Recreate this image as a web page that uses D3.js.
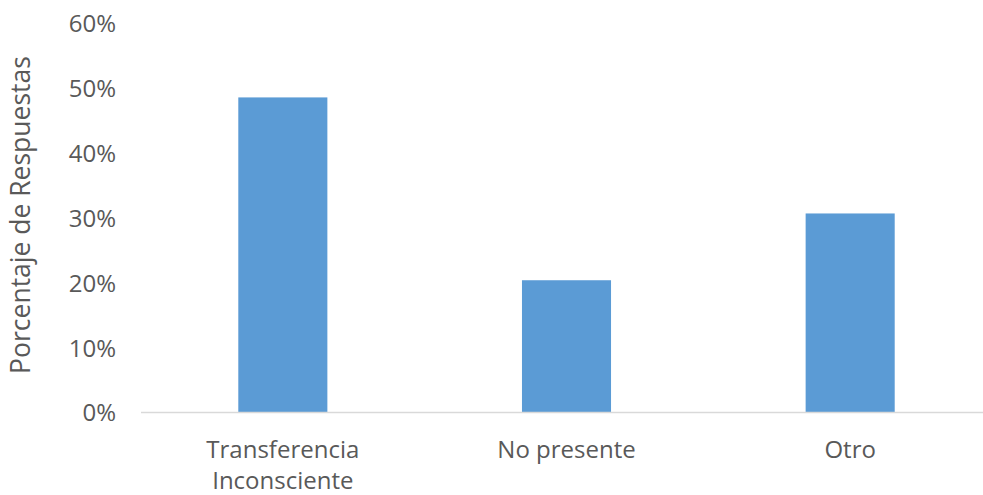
<!DOCTYPE html>
<html>
<head>
<meta charset="utf-8">
<script src="https://cdn.jsdelivr.net/npm/d3@7"></script>
<style>
  body { margin: 0; background: #fff; }
  svg text { font-family: "Open Sans", "Noto Sans", sans-serif; fill: #595959; }
</style>
</head>
<body>
<div id="chart"></div>
<script>
// data
var categories = [["Transferencia", "Inconsciente"], ["No presente"], ["Otro"]];
var values = [0.486, 0.204, 0.307];
var yTicks = [0, 0.1, 0.2, 0.3, 0.4, 0.5, 0.6];

var svgWidth = 983;
var svgHeight = 495;

var svg = d3.select("#chart")
  .append("svg")
  .attr("width", svgWidth)
  .attr("height", svgHeight);

var keys = categories.map(d => d.join(" "));

var x = d3.scaleBand()
  .domain(keys)
  .range([141, 992])
  .paddingInner(0.686)
  .paddingOuter(0.343);

var y = d3.scaleLinear()
  .domain([0, 0.6])
  .range([412.5, 23.5]);

// y axis labels (no line)
var yAxis = d3.axisLeft(y)
  .tickValues(yTicks)
  .tickFormat(d3.format(".0%"))
  .tickSize(0)
  .tickPadding(0);

var yG = svg.append("g")
  .attr("transform", "translate(116,0)")
  .call(yAxis);
yG.select(".domain").remove();
yG.selectAll("text")
  .style("font-size", "24px")
  .style("font-family", "'Open Sans', sans-serif")
  .attr("dy", "0.35em")
  .attr("fill", "#595959");

// bars
svg.selectAll("rect.bar")
  .data(values)
  .enter()
  .append("rect")
  .attr("class", "bar")
  .attr("x", (d, i) => x(keys[i]))
  .attr("y", d => y(d))
  .attr("width", x.bandwidth())
  .attr("height", d => y(0) - y(d))
  .attr("fill", "#5B9BD5");

// baseline
svg.append("line")
  .attr("x1", 141)
  .attr("x2", 983)
  .attr("y1", y(0))
  .attr("y2", y(0))
  .attr("stroke", "#d9d9d9")
  .attr("stroke-width", 1.5);

// x labels
var xLabels = svg.selectAll("text.xlab")
  .data(categories)
  .enter()
  .append("text")
  .attr("class", "xlab")
  .attr("text-anchor", "middle")
  .style("font-size", "24px");

xLabels.each(function(d, i) {
  var t = d3.select(this);
  d.forEach(function(line, j) {
    t.append("tspan")
      .attr("x", x(keys[i]) + x.bandwidth() / 2)
      .attr("y", 450 + j * 31)
      .attr("dy", "0.35em")
      .text(line);
  });
});

// y title
svg.append("text")
  .attr("transform", "translate(21,215) rotate(-90)")
  .attr("text-anchor", "middle")
  .attr("dy", "0.35em")
  .style("font-size", "26.5px")
  .text("Porcentaje de Respuestas");
</script>
</body>
</html>
